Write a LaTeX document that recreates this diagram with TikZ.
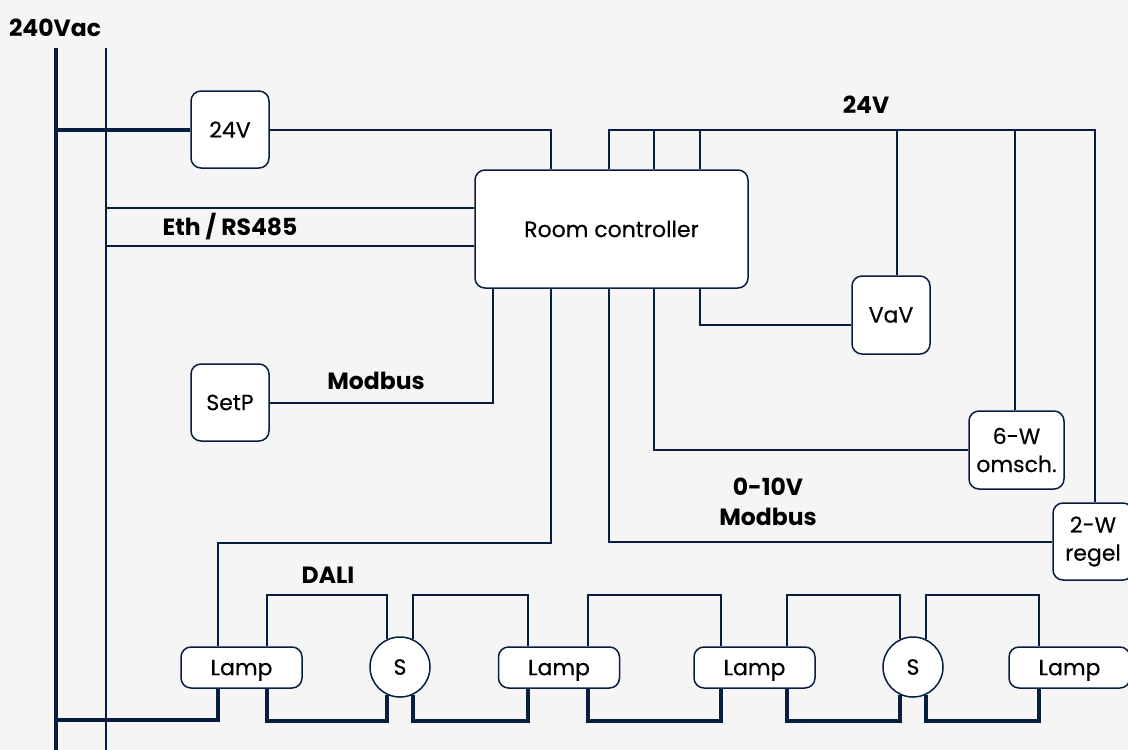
\documentclass[tikz,border=0pt]{standalone}
\usepackage{fontspec}
\setmainfont{Poppins}[UprightFeatures={FakeBold=0.4}]
\usepackage{tikz}
\usetikzlibrary{positioning,calc}
\definecolor{navy}{RGB}{8,30,64}
\definecolor{paper}{RGB}{245,245,245}

\begin{document}
\begin{tikzpicture}[
  x=1pt,y=-1pt,
  every node/.style={align=center,text=black,font=\fontsize{22}{28}\selectfont},
  box/.style={draw=navy,line width=1.5pt,rounded corners=10pt,fill=white,inner sep=0pt},
  lamp/.style={box,minimum width=121pt,minimum height=41pt,text depth=0pt},
  sensor/.style={draw=navy,line width=1.5pt,circle,fill=white,minimum size=60pt,inner sep=0pt},
  wire/.style={draw=navy,line width=2pt},
  power/.style={draw=navy,line width=4pt},
  lbl/.style={font=\fontsize{23.5}{30}\selectfont\bfseries}]

  % Achtergrond
  \fill[paper] (0,0) rectangle (1128,750);
  \useasboundingbox (0,0) rectangle (1128,750);

  % Knopen
  \node[box,minimum width=78pt,minimum height=77pt] (psu) at (230,129.5) {24V};
  \node[box,minimum width=273pt,minimum height=118pt] (ctrl) at (611.5,229) {Room controller};
  \node[box,minimum width=78pt,minimum height=78pt] (vav) at (891,315) {VaV};
  \node[box,minimum width=78pt,minimum height=77pt] (setp) at (230,402.5) {SetP};
  \node[box,minimum width=95pt,minimum height=78pt] (sixw) at (1016.5,450) {6-W\\omsch.};
  \node[box,minimum width=80pt,minimum height=77pt] (twow) at (1093,541.5) {2-W\\regel};

  \node[lamp] (L1) at (241.5,667.5) {Lamp};
  \node[sensor] (S1) at (400,667) {S};
  \node[lamp] (L2) at (559,667.5) {Lamp};
  \node[lamp] (L3) at (754.5,667.5) {Lamp};
  \node[sensor] (S2) at (913,667) {S};
  \node[lamp] (L4) at (1069.5,667.5) {Lamp};

  % Labels
  \node[lbl] (lbl240) at (55,28) {240Vac};
  \node[lbl] (lblEth) at (230,227) {Eth / RS485};
  \node[lbl] (lblModbus) at (376,381) {Modbus};
  \node[lbl] (lbl24) at (866,105) {24V};
  \node[lbl] (lbl010) at (768,502) {0-10V\\Modbus};
  \node[lbl] (lblDali) at (328,575) {DALI};

  % 240Vac rails
  \coordinate (acL) at (56,48);
  \coordinate (acN) at (106,48);
  \coordinate (lo) at (56,720);
  \draw[power] (acL) -- ++(0,702);
  \draw[wire] (acN) -- ++(0,702);
  \draw[power] (psu.west) -- ++(-135,0);

  % Room controller
  \draw[wire] (psu.east) -| ([xshift=77pt]ctrl.north west);
  \draw[wire] ([yshift=21pt]ctrl.west) -- ++(-369,0);
  \draw[wire] ([yshift=-17pt]ctrl.west) -- ++(-369,0);
  \draw[wire] ([xshift=19pt]ctrl.south west) |- (setp.east);
  \draw[wire] ([xshift=77pt]ctrl.south west) -- ++(0,254) -| ([xshift=38pt]L1.north west);
  \draw[wire] ([xshift=135pt]ctrl.south west) |- (twow.west);
  \draw[wire] ([xshift=180pt]ctrl.south west) |- (sixw.west);
  \draw[wire] ([xshift=226pt]ctrl.south west) |- ([yshift=-10pt]vav.west);

  % 24V
  \coordinate (v24) at (1095,130);
  \draw[wire] ([xshift=135pt]ctrl.north west) |- (v24) -- ([xshift=2pt]twow.north);
  \draw[wire] ([xshift=180pt]ctrl.north west) -- ++(0,-40);
  \draw[wire] ([xshift=226pt]ctrl.north west) -- ++(0,-40);
  \draw[wire] ([xshift=6pt]vav.north) -- ++(0,-146);
  \draw[wire] ([xshift=-1.5pt]sixw.north) -- ++(0,-281);

  % DALI
  \draw[wire] ([xshift=87pt]L1.north west) -- ++(0,-51) -| (S1.116);
  \draw[wire] (S1.64) -- ++(0,-44) -| ([xshift=30pt]L2.north west);
  \draw[wire] ([xshift=90pt]L2.north west) -- ++(0,-51) -| ([xshift=28pt]L3.north west);
  \draw[wire] ([xshift=94pt]L3.north west) -- ++(0,-51) -| (S2.116);
  \draw[wire] (S2.64) -- ++(0,-44) -| ([xshift=31pt]L4.north west);

  % Voeding verlichting
  \draw[power] (lo) -| ([xshift=38pt]L1.south west);
  \draw[power] ([xshift=87pt]L1.south west) -- ++(0,32) -| (S1.244);
  \draw[power] (S1.296) -- ++(0,26) -| ([xshift=30pt]L2.south west);
  \draw[power] ([xshift=90pt]L2.south west) -- ++(0,32) -| ([xshift=28pt]L3.south west);
  \draw[power] ([xshift=94pt]L3.south west) -- ++(0,32) -| (S2.244);
  \draw[power] (S2.296) -- ++(0,26) -| ([xshift=31pt]L4.south west);

\end{tikzpicture}
\end{document}
